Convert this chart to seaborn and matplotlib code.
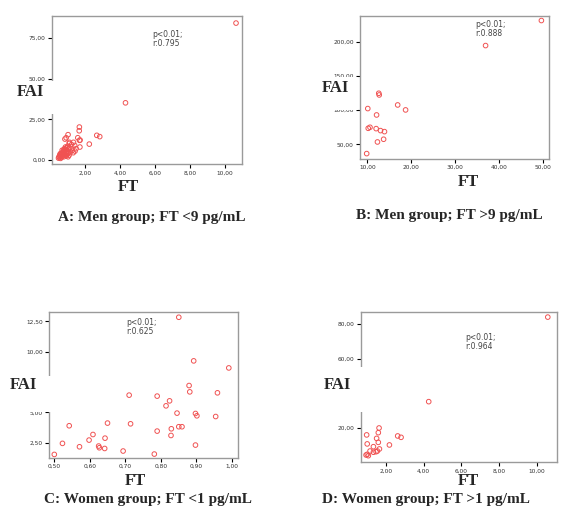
import numpy as np
import pandas as pd
import seaborn as sns
import matplotlib.pyplot as plt
from matplotlib.patches import Rectangle
from matplotlib.ticker import FuncFormatter

sns.set_style("white")
plt.rcParams["font.family"] = ["DejaVu Sans"]

# ---- data ----
# A: men, FT < 9 pg/mL
a_ft = [10.65, 4.30, 1.65, 1.64, 1.00, 0.82, 1.56, 1.66, 2.65, 2.82, 2.22, 1.68, 1.38, 1.07,
        0.89, 1.31, 1.08, 1.69,
        0.45, 0.48, 0.50, 0.52, 0.55, 0.57, 0.60, 0.62, 0.63, 0.65, 0.68, 0.70, 0.72, 0.74,
        0.75, 0.78, 0.80, 0.82, 0.83, 0.85, 0.86, 0.88, 0.90, 0.92, 0.94, 0.96, 0.98, 1.00,
        1.03, 1.06, 1.10, 1.14, 1.20, 1.25, 1.30, 1.40, 1.46, 0.58, 0.66, 0.76, 0.55, 0.90, 1.00]
a_fai = [84.3, 35.2, 20.3, 18.0, 15.6, 12.9, 13.7, 12.1, 15.2, 14.4, 9.8, 8.0, 9.0, 10.2,
         13.7, 10.9, 10.9, 12.3,
         1.2, 2.0, 1.5, 3.0, 2.2, 1.0, 2.8, 3.5, 1.8, 4.2, 2.5, 5.0, 3.2, 6.2,
         2.0, 4.5, 7.0, 3.8, 5.8, 8.0, 2.8, 6.5, 4.8, 7.5, 3.5, 5.5, 8.5, 4.2,
         6.8, 3.0, 7.2, 5.0, 9.5, 6.0, 4.5, 5.5, 7.0, 4.0, 6.0, 5.2, 3.8, 2.5, 2.0]

# B: men, FT > 9 pg/mL
b_ft = [49.6, 36.9, 12.6, 12.7, 10.1, 16.9, 18.7, 12.1, 10.6, 10.2, 12.0, 13.0, 13.9, 12.3, 13.7, 9.85]
b_fai = [231.9, 195.1, 125.0, 122.5, 102.5, 107.8, 100.5, 93.1, 75.0, 73.5, 73.0, 70.1, 68.6,
         53.4, 57.4, 36.3]

# C: women, FT < 1 pg/mL
c_ft = [0.851, 0.893, 0.992, 0.880, 0.882, 0.960, 0.711, 0.790, 0.825, 0.815, 0.846, 0.898,
        0.902, 0.955, 0.542, 0.650, 0.715, 0.851, 0.860, 0.830, 0.790, 0.609, 0.829, 0.643,
        0.598, 0.523, 0.898, 0.571, 0.625, 0.627, 0.642, 0.694, 0.782, 0.500]
c_fai = [12.83, 9.24, 8.66, 7.21, 6.69, 6.61, 6.42, 6.34, 5.95, 5.54, 4.94, 4.91,
         4.72, 4.66, 3.90, 4.12, 4.06, 3.82, 3.82, 3.65, 3.46, 3.18, 3.10, 2.88,
         2.72, 2.45, 2.31, 2.17, 2.23, 2.09, 2.03, 1.82, 1.57, 1.54]

# D: women, FT > 1 pg/mL
d_ft = [10.6, 4.27, 1.63, 1.59, 0.97, 2.62, 2.80, 1.50, 1.59, 1.00, 2.18, 1.33, 1.65, 1.15,
        1.33, 1.47, 1.54, 0.94, 1.06, 1.00]
d_fai = [84.0, 35.2, 20.0, 17.3, 16.0, 15.4, 14.6, 14.0, 11.7, 10.8, 10.2, 9.2, 7.9, 6.7,
         6.0, 6.3, 6.7, 4.4, 4.0, 4.8]

panels = [
    dict(ft=a_ft, fai=a_fai, pos=[0.0896, 0.677, 0.330, 0.291], xlim=(0.06, 11.0), ylim=(-2.5, 88.5),
         xt=[2, 4, 6, 8, 10], yt=[0, 25, 50, 75], hidden=[], stat="p<0.01;\nr:0.795", stat_xy=(0.53, 0.91),
         cap="A: Men group; FT <9 pg/mL", cap_xy=(152, 218), ft_xy=(128, 187),
         fai_xy=(30, 91.5), box=(8, 81, 55, 114)),
    dict(ft=b_ft, fai=b_fai, pos=[0.624, 0.6876, 0.328, 0.2815], xlim=(8.34, 51.4), ylim=(28.8, 239),
         xt=[10, 20, 30, 40, 50], yt=[50, 100, 150, 200], hidden=[], stat="p<0.01;\nr:0.888",
         stat_xy=(0.61, 0.97), cap="B: Men group; FT >9 pg/mL", cap_xy=(449, 216), ft_xy=(468, 182),
         fai_xy=(335, 88), box=(305, 77, 358, 110)),
    dict(ft=c_ft, fai=c_fai, pos=[0.0849, 0.099, 0.327, 0.287], xlim=(0.485, 1.017), ylim=(1.27, 13.27),
         xt=[0.5, 0.6, 0.7, 0.8, 0.9, 1.0], yt=[2.5, 5.0, 7.5, 10.0, 12.5], hidden=[7.5],
         stat="p<0.01;\nr:0.625", stat_xy=(0.41, 0.96), cap="C: Women group; FT <1 pg/mL",
         cap_xy=(148, 500), ft_xy=(135, 481), fai_xy=(23, 385), box=(0, 376, 52, 412)),
    dict(ft=d_ft, fai=d_fai, pos=[0.625, 0.090, 0.341, 0.295], xlim=(0.65, 11.11), ylim=(0.2, 86.7),
         xt=[2, 4, 6, 8, 10], yt=[20, 40, 60, 80], hidden=[40], stat="p<0.01;\nr:0.964",
         stat_xy=(0.53, 0.86), cap="D: Women group; FT >1 pg/mL", cap_xy=(322, 500), ft_xy=(468, 481),
         fai_xy=(337, 385), box=(310, 367, 364, 412)),
]

W, H = 577, 508
fig = plt.figure(figsize=(W / 100, H / 100), dpi=100)
serif = ["Liberation Serif", "DejaVu Serif"]


def comma(v):
    return f"{v:.2f}".replace(".", ",")


for p in panels:
    ax = fig.add_axes(p["pos"])
    df = pd.DataFrame({"FT": p["ft"], "FAI": p["fai"]})
    sns.scatterplot(data=df, x="FT", y="FAI", ax=ax, marker="o", s=11,
                    facecolors="none", edgecolor="#f05252", linewidth=0.7)
    ax.set_xlim(p["xlim"])
    ax.set_ylim(p["ylim"])
    ax.set_xticks(p["xt"])
    ax.set_yticks(p["yt"])
    ax.xaxis.set_major_formatter(FuncFormatter(lambda v, i: comma(v)))
    # labels sitting under the FAI patch are left blank
    hid = p["hidden"]
    ax.yaxis.set_major_formatter(FuncFormatter(
        lambda v, i, hid=hid: "" if any(abs(v - h) < 1e-9 for h in hid) else comma(v)))
    ax.tick_params(axis="both", direction="out", length=3, width=0.8, color="black",
                   labelsize=4.2, labelcolor="#333333", pad=1.5, bottom=True, left=True)
    ax.set_xlabel("")
    ax.set_ylabel("")
    for s in ax.spines.values():
        s.set_color("#9a9a9a")
        s.set_linewidth(1.0)
    ax.text(p["stat_xy"][0], p["stat_xy"][1], p["stat"], transform=ax.transAxes,
            fontsize=5.5, color="#444444", va="top", ha="left", linespacing=1.0)

    # white patch behind the FAI label
    x0, y0, x1, y1 = p["box"]
    fig.patches.append(Rectangle((x0 / W, 1 - y1 / H), (x1 - x0) / W, (y1 - y0) / H,
                                 transform=fig.transFigure, facecolor="white",
                                 edgecolor="none", zorder=5))
    fig.text(p["fai_xy"][0] / W, 1 - p["fai_xy"][1] / H, "FAI", fontsize=12,
             fontweight="bold", family=serif, ha="center", va="center", zorder=6)
    fig.text(p["ft_xy"][0] / W, 1 - p["ft_xy"][1] / H, "FT", fontsize=12,
             fontweight="bold", family=serif, ha="center", va="center")
    ha = "left" if p["cap"].startswith("D") else "center"
    fig.text(p["cap_xy"][0] / W, 1 - p["cap_xy"][1] / H, p["cap"], fontsize=11,
             fontweight="bold", family=serif, ha=ha, va="center")

fig.savefig("out.png", dpi=100)
